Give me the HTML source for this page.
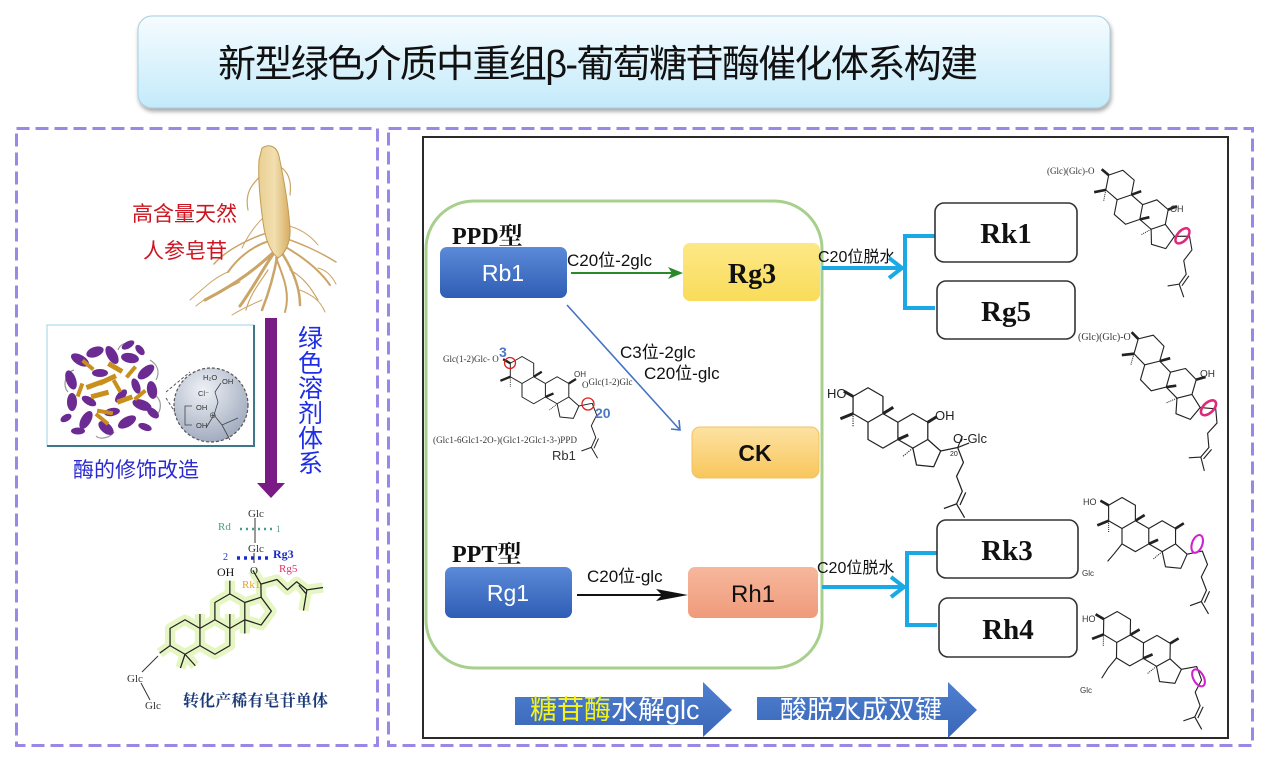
<!DOCTYPE html>
<html><head><meta charset="utf-8"><style>
html,body{margin:0;padding:0;background:#fff;}
body{width:1269px;height:766px;position:relative;overflow:hidden;font-family:"Liberation Sans","Noto Sans CJK SC",sans-serif;}
svg{position:absolute;left:0;top:0;}
.cj{font-family:"Liberation Sans","Noto Sans CJK SC",sans-serif;}
.sf{font-family:"Liberation Serif","Noto Serif CJK SC",serif;}
</style></head><body>
<svg width="1269" height="766" viewBox="0 0 1269 766" xmlns="http://www.w3.org/2000/svg">
<defs>
<linearGradient id="gTitle" x1="0" y1="0" x2="0" y2="1"><stop offset="0" stop-color="#f6fcff"/><stop offset="1" stop-color="#c3eafa"/></linearGradient>
<linearGradient id="gBlue" x1="0" y1="0" x2="0" y2="1"><stop offset="0" stop-color="#5b8ad8"/><stop offset="1" stop-color="#2f5db5"/></linearGradient>
<linearGradient id="gYel" x1="0" y1="0" x2="0" y2="1"><stop offset="0" stop-color="#fde886"/><stop offset="1" stop-color="#f9dc5a"/></linearGradient>
<linearGradient id="gOr" x1="0" y1="0" x2="0" y2="1"><stop offset="0" stop-color="#fde2a2"/><stop offset="1" stop-color="#f8c65c"/></linearGradient>
<linearGradient id="gSal" x1="0" y1="0" x2="0" y2="1"><stop offset="0" stop-color="#f7b79c"/><stop offset="1" stop-color="#ef9b7b"/></linearGradient>
<linearGradient id="gArr" x1="0" y1="0" x2="0" y2="1"><stop offset="0" stop-color="#4f80d0"/><stop offset="1" stop-color="#3a66b8"/></linearGradient>
<linearGradient id="gRoot" x1="0" y1="0" x2="1" y2="0"><stop offset="0" stop-color="#e9cf92"/><stop offset="0.5" stop-color="#f2dfb0"/><stop offset="1" stop-color="#d5ad62"/></linearGradient>
<radialGradient id="gCirc" cx="0.4" cy="0.3" r="0.8"><stop offset="0" stop-color="#eef1f6"/><stop offset="1" stop-color="#98a3b8"/></radialGradient>
<filter id="sh" x="-5%" y="-10%" width="110%" height="130%"><feDropShadow dx="1" dy="3" stdDeviation="2" flood-color="#000" flood-opacity="0.35"/></filter>
<g id="dam" fill="none" stroke="#222" stroke-width="1.1" stroke-linejoin="round">
<path d="M0,-15 L13,-7.5 L13,7.5 L0,15 L-13,7.5 L-13,-7.5 Z"/>
<path d="M13,7.5 L26,15 L26,30 L13,37.5 L0,30 L0,15"/>
<path d="M26,15 L39,7.5 L52,15 L52,30 L39,37.5 L26,30"/>
<path d="M52,30 L63.2,40 L57.1,53.7 L42.2,52.2 L39,37.5"/>
<path d="M63.2,40 L78,37 L83,50 L77,62 L82,75 L77,86 L66,90 M77,86 L84,98 M85,76 L80,87"/>
<path d="M-13,-7.5 L-21,-12 M-13,7.5 L-24,12 M13,7.5 L22,2 M26,30 L35,26 M52,15 L60,10" stroke-width="2.6"/>
<path d="M-13,7.5 L-13,19 M39,37.5 L30,45" stroke-width="1" stroke-dasharray="1 1"/>
</g>
<g id="std" fill="none" stroke-linejoin="round">
<path d="M0,-15 L13,-7.5 L13,7.5 L0,15 L-13,7.5 L-13,-7.5 Z"/>
<path d="M13,-7.5 L26,-15 L39,-7.5 L39,7.5 L26,15 L13,7.5"/>
<path d="M26,-15 L26,-30 L39,-37.5 L52,-30 L52,-15 L39,-7.5"/>
<path d="M52,-30 L66.2,-34.6 L75.1,-22.5 L66.2,-10.4 L52,-15"/>
<path d="M66.2,-34.6 L66,-46 L80,-50 L89,-41 L97,-48 L106,-41 L120,-43 M106,-41 L103,-23 M99,-45 L105,-38"/>
<path d="M66,-46 L59,-58 M39,-37.5 L39,-49 M-13,7.5 L-22,14 M0,15 L-4,27 M13,-7.5 L13,-20 M39,-7.5 L39,-20"/>
<path d="M52,-15 L52,-3 M0,15 L9,25"/>
</g>
</defs>

<!-- title -->
<rect x="138" y="16" width="972" height="92" rx="14" fill="url(#gTitle)" stroke="#a9cfe0" stroke-width="1" filter="url(#sh)"/>
<text x="218" y="77" font-size="38" fill="#111" class="cj" textLength="760">新型绿色介质中重组β-葡萄糖苷酶催化体系构建</text>

<!-- dashed panels -->
<rect x="16.5" y="128.5" width="361" height="617" fill="none" stroke="#9b88e6" stroke-width="3" stroke-dasharray="13 6"/>
<rect x="388.5" y="128.5" width="864" height="617" fill="none" stroke="#9b88e6" stroke-width="3" stroke-dasharray="13 6"/>

<!-- inner black box -->
<rect x="423" y="137" width="805" height="601" fill="#fff" stroke="#2a2a2a" stroke-width="2"/>

<!-- green rounded rect -->
<rect x="426" y="201" width="396" height="467" rx="48" fill="none" stroke="#a8d08c" stroke-width="3"/>

<!-- PPD / PPT labels -->
<text x="452" y="244" font-size="24" font-weight="bold" fill="#111" class="sf">PPD型</text>
<text x="452" y="562" font-size="24" font-weight="bold" fill="#111" class="sf">PPT型</text>

<!-- boxes left -->
<rect x="440" y="247" width="127" height="51" rx="7" fill="url(#gBlue)"/>
<text x="503" y="281" font-size="23" fill="#fff" text-anchor="middle">Rb1</text>
<rect x="683" y="243" width="137" height="58" rx="7" fill="url(#gYel)"/>
<text x="752" y="283" font-size="28" font-weight="bold" fill="#111" text-anchor="middle" class="sf">Rg3</text>
<rect x="692" y="427" width="127" height="51" rx="8" fill="url(#gOr)" stroke="#f2c060" stroke-width="1"/>
<text x="755" y="461" font-size="23" font-weight="bold" fill="#111" text-anchor="middle">CK</text>
<rect x="445" y="567" width="127" height="51" rx="7" fill="url(#gBlue)"/>
<text x="508" y="601" font-size="23" fill="#fff" text-anchor="middle">Rg1</text>
<rect x="688" y="567" width="130" height="51" rx="7" fill="url(#gSal)"/>
<text x="753" y="602" font-size="24" fill="#111" text-anchor="middle">Rh1</text>

<!-- arrows left -->
<text x="567" y="266" font-size="17" fill="#111" class="cj">C20位-2glc</text>
<line x1="571" y1="273" x2="674" y2="273" stroke="#2a8a2a" stroke-width="2"/>
<polygon points="683,273 668,267 672,273 668,279" fill="#2a8a2a"/>
<line x1="567" y1="305" x2="680" y2="430" stroke="#4472c4" stroke-width="1.6"/>
<polyline points="671,429 680,430 679,420" fill="none" stroke="#4472c4" stroke-width="1.6"/>
<text x="620" y="358" font-size="17" fill="#111" class="cj">C3位-2glc</text>
<text x="644" y="379" font-size="17" fill="#111" class="cj">C20位-glc</text>
<text x="587" y="582" font-size="17" fill="#111" class="cj">C20位-glc</text>
<line x1="577" y1="595" x2="665" y2="595" stroke="#111" stroke-width="2"/>
<polygon points="688,595 656,589 662,595 656,601" fill="#111"/>

<!-- Rb1 molecule -->
<g transform="translate(522,370) scale(0.9)"><use href="#dam"/></g>
<circle cx="510" cy="363" r="5.5" fill="none" stroke="#e02020" stroke-width="1.3"/>
<circle cx="588" cy="404" r="6" fill="none" stroke="#e02020" stroke-width="1.3"/>
<text x="443" y="362" font-size="9" fill="#333" class="sf">Glc(1-2)Glc-  O</text>
<text x="499" y="357" font-size="14" font-weight="bold" fill="#4a78c8">3</text>
<text x="574" y="377" font-size="8" fill="#333">OH</text>
<text x="582" y="388" font-size="9" fill="#333" class="sf">O<tspan dy="-3">Glc(1-2)Glc</tspan></text>
<text x="595" y="418" font-size="14" font-weight="bold" fill="#4a78c8">20</text>
<text x="433" y="443" font-size="9" fill="#333" class="sf" textLength="144">(Glc1-6Glc1-2O-)(Glc1-2Glc1-3-)PPD</text>
<text x="552" y="460" font-size="13" fill="#333">Rb1</text>

<!-- CK molecule -->
<g transform="translate(868,405) scale(1.15)"><use href="#dam"/>
<path d="M78,37 L82,27 M78,37 L88,33" fill="none" stroke="#222" stroke-width="1"/></g>
<text x="827" y="398" font-size="13" fill="#222">HO</text>
<text x="935" y="420" font-size="13" fill="#222">OH</text>
<text x="953" y="443" font-size="13" fill="#222">O-Glc</text>
<text x="950" y="456" font-size="7" fill="#222">20</text>

<!-- cyan arrows -->
<text x="818" y="262" font-size="16" fill="#111" class="cj">C20位脱水</text>
<line x1="822" y1="268" x2="902" y2="268" stroke="#1ba9e6" stroke-width="4"/>
<polyline points="889,258 902,268 889,278" fill="none" stroke="#1ba9e6" stroke-width="4"/>
<path d="M935,236 H905 V308 H935" fill="none" stroke="#1ba9e6" stroke-width="4"/>
<text x="817" y="573" font-size="16" fill="#111" class="cj">C20位脱水</text>
<line x1="822" y1="587" x2="904" y2="587" stroke="#1ba9e6" stroke-width="4"/>
<polyline points="891,577 904,587 891,597" fill="none" stroke="#1ba9e6" stroke-width="4"/>
<path d="M937,553 H907 V625 H937" fill="none" stroke="#1ba9e6" stroke-width="4"/>

<!-- right boxes -->
<rect x="935" y="203" width="142" height="59" rx="9" fill="#fff" stroke="#333" stroke-width="1.6"/>
<text x="1006" y="243" font-size="29" font-weight="bold" fill="#111" text-anchor="middle" class="sf">Rk1</text>
<rect x="937" y="281" width="138" height="58" rx="9" fill="#fff" stroke="#333" stroke-width="1.6"/>
<text x="1006" y="321" font-size="29" font-weight="bold" fill="#111" text-anchor="middle" class="sf">Rg5</text>
<rect x="937" y="520" width="141" height="58" rx="9" fill="#fff" stroke="#333" stroke-width="1.6"/>
<text x="1007" y="560" font-size="29" font-weight="bold" fill="#111" text-anchor="middle" class="sf">Rk3</text>
<rect x="939" y="598" width="138" height="59" rx="9" fill="#fff" stroke="#333" stroke-width="1.6"/>
<text x="1008" y="639" font-size="29" font-weight="bold" fill="#111" text-anchor="middle" class="sf">Rh4</text>

<!-- right molecules -->
<g transform="translate(1120,185) rotate(11)"><use href="#dam"/>
<ellipse cx="71" cy="38" rx="9" ry="5" transform="rotate(-60 71 38)" fill="none" stroke="#e0287a" stroke-width="2.5"/></g>
<text x="1047" y="174" font-size="9" fill="#333" class="sf">(Glc)(Glc)-O</text>
<text x="1170" y="212" font-size="9" fill="#333">OH</text>

<g transform="translate(1149,350) rotate(16) scale(1.03)"><use href="#dam"/>
<ellipse cx="71" cy="38" rx="9" ry="5" transform="rotate(-60 71 38)" fill="none" stroke="#e0287a" stroke-width="2.5"/></g>
<text x="1078" y="340" font-size="10" fill="#333" class="sf">(Glc)(Glc)-O</text>
<text x="1200" y="377" font-size="10" fill="#333">OH</text>

<g transform="translate(1122,513) scale(1.03)"><use href="#dam"/>
<path d="M0,30 L-8,40 L-14,47" fill="none" stroke="#222" stroke-width="1.1"/>
<ellipse cx="73" cy="30" rx="9" ry="5" transform="rotate(-70 73 30)" fill="none" stroke="#d020d0" stroke-width="2"/></g>
<text x="1083" y="505" font-size="9" fill="#333">HO</text>
<text x="1082" y="576" font-size="8" fill="#333">Glc</text>

<g transform="translate(1117,627) rotate(1) scale(1.03)"><use href="#dam"/>
<path d="M0,30 L-8,40 L-14,50" fill="none" stroke="#222" stroke-width="1.1"/>
<ellipse cx="80" cy="48" rx="9" ry="5" transform="rotate(-120 80 48)" fill="none" stroke="#d020d0" stroke-width="2"/></g>
<text x="1082" y="622" font-size="9" fill="#333">HO</text>
<text x="1080" y="693" font-size="8" fill="#333">Glc</text>

<!-- bottom block arrows -->
<path d="M515,697 H703 V682 L732,710 L703,737 V725 H515 Z" fill="url(#gArr)"/>
<text x="530" y="719" font-size="27" class="cj"><tspan fill="#f4f41c">糖苷酶</tspan><tspan fill="#fff">水解glc</tspan></text>
<path d="M757,697 H948 V682 L977,710 L948,738 V720 H757 Z" fill="url(#gArr)"/>
<text x="780" y="720" font-size="27" fill="#fff" class="cj">酸脱水成双键</text>

<!-- LEFT PANEL -->
<!-- ginseng -->
<g fill="none" stroke="#cba567" stroke-linecap="round">
<path d="M262,175 C250,185 245,195 248,210" stroke-width="1.2"/>
<path d="M277,165 C288,170 292,180 290,195" stroke-width="1.2"/>
<path d="M276,250 C260,265 240,282 205,300" stroke-width="3"/>
<path d="M276,250 C262,270 255,285 240,306" stroke-width="3"/>
<path d="M278,252 C275,270 270,290 262,310" stroke-width="2.5"/>
<path d="M280,250 C290,265 300,285 300,305" stroke-width="2.5"/>
<path d="M282,245 C300,255 318,268 330,285" stroke-width="2"/>
<path d="M284,238 C300,243 320,252 336,262" stroke-width="1.5"/>
<path d="M272,240 C255,245 240,255 228,272" stroke-width="2"/>
<path d="M270,232 C250,238 226,250 214,264" stroke-width="1.5"/>
<path d="M276,258 C285,280 290,295 285,312" stroke-width="2"/>
<path d="M240,282 C225,290 210,294 196,306" stroke-width="1"/>
<path d="M228,272 C215,277 205,287 190,300" stroke-width="1"/>
<path d="M300,290 C312,295 320,300 325,312" stroke-width="1"/>
<path d="M262,300 C250,305 240,310 232,315" stroke-width="1"/>
<path d="M318,268 C326,270 332,276 336,284" stroke-width="1"/>
<path d="M290,270 C305,278 312,290 318,300" stroke-width="1.2"/>
<path d="M268,270 C258,285 250,295 246,310" stroke-width="1.2"/>
<path d="M285,225 C300,228 310,235 318,245" stroke-width="1"/>
<path d="M266,215 C255,225 248,235 242,248" stroke-width="1"/>
</g>
<path d="M262,148 C270,143 277,147 279,156 C283,175 288,200 290,228 C291,242 285,254 278,258 C270,252 265,238 263,222 C260,200 258,175 259,160 Z" fill="url(#gRoot)" stroke="#c29a55" stroke-width="1"/>
<text x="132" y="221" font-size="21" fill="#cc1520" class="cj">高含量天然</text>
<text x="143" y="258" font-size="21" fill="#cc1520" class="cj">人参皂苷</text>

<!-- protein box -->
<rect x="47" y="325" width="207" height="121" fill="#fff" stroke="#9fd3e6" stroke-width="1"/>
<path d="M254,325 V446 H47" fill="none" stroke="#3f7888" stroke-width="2"/>
<g fill="none" stroke="#999" stroke-width="1.2">
<path d="M68,392 C62,385 66,372 74,370"/><path d="M150,360 C158,365 160,372 156,380"/><path d="M96,436 C100,440 110,438 114,432"/><path d="M118,350 C120,344 126,342 130,344"/><path d="M155,395 C162,400 162,410 156,416"/>
</g>
<g fill="#6b2b92">
<ellipse cx="80" cy="360" rx="10" ry="5" transform="rotate(30 80 360)"/>
<ellipse cx="95" cy="352" rx="9" ry="5" transform="rotate(-20 95 352)"/>
<ellipse cx="112" cy="355" rx="10" ry="5" transform="rotate(60 112 355)"/>
<ellipse cx="130" cy="358" rx="9" ry="5" transform="rotate(10 130 358)"/>
<ellipse cx="146" cy="372" rx="10" ry="5" transform="rotate(-40 146 372)"/>
<ellipse cx="152" cy="390" rx="9" ry="5" transform="rotate(80 152 390)"/>
<ellipse cx="142" cy="405" rx="10" ry="5" transform="rotate(20 142 405)"/>
<ellipse cx="127" cy="422" rx="10" ry="5" transform="rotate(-30 127 422)"/>
<ellipse cx="106" cy="428" rx="9" ry="5" transform="rotate(40 106 428)"/>
<ellipse cx="86" cy="420" rx="10" ry="5" transform="rotate(-60 86 420)"/>
<ellipse cx="72" cy="402" rx="9" ry="5" transform="rotate(90 72 402)"/>
<ellipse cx="71" cy="380" rx="10" ry="5" transform="rotate(70 71 380)"/>
<ellipse cx="100" cy="373" rx="8" ry="4"/>
<ellipse cx="121" cy="396" rx="8" ry="4" transform="rotate(-50 121 396)"/>
<ellipse cx="89" cy="401" rx="8" ry="4" transform="rotate(30 89 401)"/>
<ellipse cx="136" cy="386" rx="8" ry="4" transform="rotate(70 136 386)"/>
<ellipse cx="112" cy="412" rx="8" ry="4" transform="rotate(-10 112 412)"/>
<ellipse cx="153" cy="413" rx="7" ry="4" transform="rotate(40 153 413)"/>
<ellipse cx="78" cy="431" rx="7" ry="3.5"/>
<ellipse cx="128" cy="345" rx="7" ry="3.5" transform="rotate(-30 128 345)"/>
<ellipse cx="145" cy="427" rx="7" ry="3.5" transform="rotate(20 145 427)"/>
<ellipse cx="140" cy="350" rx="6" ry="3.5" transform="rotate(50 140 350)"/>
<ellipse cx="66" cy="418" rx="6" ry="3.5" transform="rotate(-30 66 418)"/>
</g>
<g fill="#c98f1c">
<rect x="86" y="382" width="18" height="5" transform="rotate(-20 95 385)"/>
<rect x="99" y="377" width="18" height="5" transform="rotate(-25 108 380)"/>
<rect x="91" y="392" width="18" height="5" transform="rotate(-15 100 395)"/>
<rect x="107" y="365" width="16" height="5" transform="rotate(30 115 368)"/>
<rect x="117" y="397" width="16" height="5" transform="rotate(-20 125 400)"/>
<rect x="81" y="363" width="14" height="4" transform="rotate(40 88 365)"/>
<rect x="133" y="393" width="14" height="4" transform="rotate(-40 140 395)"/>
<rect x="97" y="410" width="16" height="4" transform="rotate(10 105 412)"/>
<rect x="73" y="388" width="14" height="4" transform="rotate(-70 80 390)"/>
<rect x="94" y="417" width="16" height="4" transform="rotate(40 102 419)"/>
<rect x="110" y="384" width="14" height="4" transform="rotate(60 117 386)"/>
<rect x="124" y="370" width="14" height="4" transform="rotate(-50 131 372)"/>
</g>
<line x1="166" y1="392" x2="190" y2="372" stroke="#555" stroke-width="1" stroke-dasharray="3 2"/>
<line x1="166" y1="398" x2="190" y2="436" stroke="#555" stroke-width="1" stroke-dasharray="3 2"/>
<circle cx="211" cy="405" r="37" fill="url(#gCirc)" stroke="#555" stroke-width="1.2" stroke-dasharray="3 2"/>
<g font-size="7.5" fill="#333"><text x="203" y="380">H₂O</text><text x="198" y="396">Cl⁻</text><text x="222" y="384">OH</text><text x="196" y="410">OH</text><text x="196" y="428">OH</text><text x="209" y="418">⊕</text></g>
<path d="M221,383 L215,392 L218,402 L214,415 L222,425 M214,415 L206,428 M222,425 L238,418 M222,425 L230,440 M192,406 H185 V425 H192" fill="none" stroke="#444" stroke-width="0.8"/>
<text x="73" y="477" font-size="21" fill="#2a2ad0" class="cj">酶的修饰改造</text>

<!-- purple arrow -->
<rect x="265" y="318" width="12" height="167" fill="#7a1a84"/>
<polygon points="257,483 285,483 271,498" fill="#7a1a84"/>
<g font-size="25" fill="#1e2ee6" class="cj">
<text x="298" y="347">绿</text><text x="298" y="372">色</text><text x="298" y="397">溶</text><text x="298" y="422">剂</text><text x="298" y="447">体</text><text x="298" y="472">系</text>
</g>

<!-- left molecule -->
<g transform="translate(185,637) scale(1.15)">
<use href="#std" stroke="#e4f6bc" stroke-width="9" opacity="0.9"/>
<use href="#std" stroke="#222" stroke-width="1.1"/>
</g>
<path d="M255,518 V543 M254,553 V563 M158,656 L142,672 M141,683 L150,700" fill="none" stroke="#333" stroke-width="1"/>
<g font-family="Liberation Serif,serif" font-size="11" fill="#333">
<text x="248" y="517">Glc</text><text x="248" y="552">Glc</text><text x="250" y="574">O</text>
<text x="127" y="682">Glc</text><text x="145" y="709">Glc</text>
<text x="217" y="576" font-size="12" fill="#111">OH</text>
<text x="218" y="530" fill="#4a9a8a">Rd</text><text x="276" y="532" fill="#4a9a8a" font-size="9">1</text>
<text x="223" y="560" fill="#2030c0" font-size="10">2</text>
<text x="273" y="558" fill="#1a2ac8" font-weight="bold" font-size="12">Rg3</text>
<text x="279" y="572" fill="#e03068" font-size="11">Rg5</text>
<text x="242" y="588" fill="#e8a020" font-size="11">Rk1</text>
</g>
<line x1="240" y1="529" x2="274" y2="529" stroke="#4a9a8a" stroke-width="2.5" stroke-dasharray="2 4"/>
<line x1="237" y1="558" x2="268" y2="558" stroke="#1a2ac8" stroke-width="3.5" stroke-dasharray="3 4"/>
<text x="183" y="706" font-size="16" font-weight="bold" fill="#1a3a7a" font-family="Noto Serif CJK SC,serif" textLength="145">转化产稀有皂苷单体</text>
</svg>
</body></html>
